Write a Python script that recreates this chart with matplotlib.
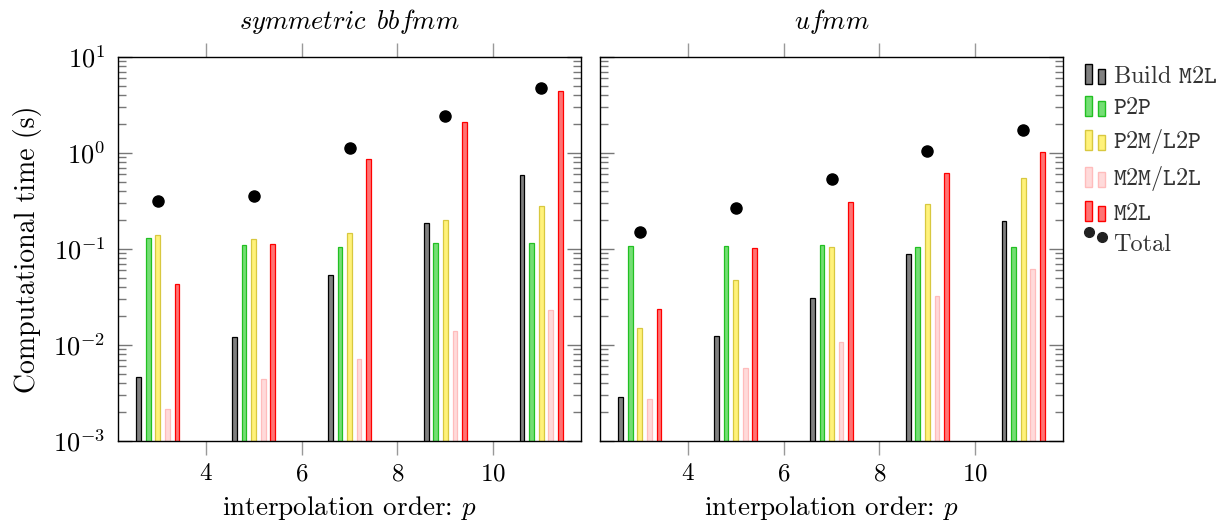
import numpy as np
import matplotlib
matplotlib.use("Agg")
import matplotlib.pyplot as plt
from matplotlib.patches import Rectangle
from matplotlib.lines import Line2D

plt.rcParams['font.family'] = ['cmr10', 'DejaVu Serif']
plt.rcParams['mathtext.fontset'] = 'cm'
plt.rcParams['axes.formatter.use_mathtext'] = True
plt.rcParams['axes.unicode_minus'] = False
plt.rcParams['font.size'] = 19

### data
p_values = [3, 5, 7, 9, 11]

sym_build = [0.0046, 0.012, 0.053, 0.188, 0.585]
sym_p2p = [0.130, 0.109, 0.105, 0.116, 0.115]
sym_p2m = [0.140, 0.127, 0.148, 0.199, 0.278]
sym_m2m = [0.00214, 0.00443, 0.0071, 0.0141, 0.023]
sym_m2l = [0.0428, 0.114, 0.873, 2.08, 4.38]
sym_total = [0.314, 0.356, 1.13, 2.41, 4.80]

uf_build = [0.00287, 0.0125, 0.0306, 0.0887, 0.197]
uf_p2p = [0.108, 0.108, 0.109, 0.105, 0.104]
uf_p2m = [0.0150, 0.0475, 0.106, 0.292, 0.545]
uf_m2m = [0.00274, 0.00571, 0.01066, 0.0322, 0.0624]
uf_m2l = [0.0239, 0.103, 0.306, 0.619, 1.03]
uf_total = [0.150, 0.265, 0.532, 1.05, 1.75]

series_labels = [r'Build $\mathtt{M2L}$', r'$\mathtt{P2P}$', r'$\mathtt{P2M/L2P}$',
                 r'$\mathtt{M2M/L2L}$', r'$\mathtt{M2L}$']
face_colors = ['#808080', '#74de74', '#fff27a', '#ffdada', '#ff7373']
edge_colors = ['#000000', '#22c022', '#d8c840', '#ffbcbc', '#ff0000']
offsets = [-0.4, -0.2, 0.0, 0.2, 0.4]


class TwoBars:
    '''pgfplots style legend image: two small bars'''
    def __init__(self, fc, ec):
        self.fc, self.ec = fc, ec

    def legend_artist(self, legend, orig_handle, fontsize, handlebox):
        x0, y0 = -handlebox.xdescent, -handlebox.ydescent
        w, h = handlebox.width, handlebox.height
        tr = handlebox.get_transform()
        r1 = Rectangle((x0, y0), 0.3 * w, h, fc=self.fc, ec=self.ec, lw=1, transform=tr)
        r2 = Rectangle((x0 + 0.6 * w, y0), 0.3 * w, 0.75 * h, fc=self.fc, ec=self.ec,
                       lw=1, transform=tr)
        handlebox.add_artist(r1)
        handlebox.add_artist(r2)
        return r1


class TwoDots:
    def legend_artist(self, legend, orig_handle, fontsize, handlebox):
        x0, y0 = -handlebox.xdescent, -handlebox.ydescent
        w, h = handlebox.width, handlebox.height
        tr = handlebox.get_transform()
        d1 = Line2D([x0 + 0.15 * w], [y0 + 1.05 * h], marker='o', ms=7, color='#222222',
                    ls='none', transform=tr)
        d2 = Line2D([x0 + 0.75 * w], [y0 + 0.8 * h], marker='o', ms=7, color='#222222',
                    ls='none', transform=tr)
        handlebox.add_artist(d1)
        handlebox.add_artist(d2)
        return d1


fig = plt.figure(figsize=(12.22, 5.22), dpi=100)
ax1 = fig.add_axes([118 / 1222, 1 - 441 / 522, 463 / 1222, 384 / 522])
ax2 = fig.add_axes([600 / 1222, 1 - 441 / 522, 463 / 1222, 384 / 522])

panels = [
    (ax1, [sym_build, sym_p2p, sym_p2m, sym_m2m, sym_m2l], sym_total, 'symmetric\\ \\,bbfmm'),
    (ax2, [uf_build, uf_p2p, uf_p2m, uf_m2m, uf_m2l], uf_total, 'ufmm'),
]

p = np.array(p_values, dtype=float)
for ax, series, total, title in panels:
    for vals, off, fc, ec in zip(series, offsets, face_colors, edge_colors):
        ax.bar(p + off, vals, width=0.1, color=fc, edgecolor=ec, linewidth=0.9)
    ax.plot(p, total, 'o', color='black', ms=8)
    ax.set_yscale('log')
    ax.set_ylim(1e-3, 10)
    ax.set_xlim(2.17, 11.83)
    ax.set_xticks([4, 6, 8, 10])
    ax.tick_params(axis='x', which='both', direction='out', top=True, bottom=True,
                   length=10, color='#999999', width=1.0, pad=6, labelsize=18)
    ax.tick_params(axis='y', which='major', direction='in', left=True, right=True,
                   length=10, color='#777777', width=1.0, pad=9, labelsize=19)
    ax.tick_params(axis='y', which='minor', direction='in', left=True, right=True,
                   length=6, color='#777777', width=1.0)
    ax.set_xlabel(r'interpolation order: $p$', labelpad=6, fontsize=19.5)
    ax.set_title(r'$\mathit{' + title + '}$', pad=20, fontsize=19)
    for sp in ax.spines.values():
        sp.set_linewidth(1.0)

ax1.set_ylabel('Computational time (s)', fontsize=20, labelpad=8)
ax2.tick_params(axis='y', which='both', labelleft=False)

handles = [Rectangle((0, 0), 1, 1) for _ in series_labels] + [Line2D([], [])]
handler_map = {h: TwoBars(fc, ec) for h, fc, ec in zip(handles[:5], face_colors, edge_colors)}
handler_map[handles[5]] = TwoDots()
leg = fig.legend(handles, series_labels + ['Total'], handler_map=handler_map,
                 loc='upper left', bbox_to_anchor=(1078 / 1222, 1 - 57 / 522),
                 frameon=False, handlelength=0.9, handleheight=0.9, handletextpad=0.25,
                 labelspacing=0.33, fontsize=17.5, borderaxespad=0, borderpad=0.3)
for t in leg.get_texts():
    t.set_color('#333333')

fig.savefig('out.png', dpi=100)
